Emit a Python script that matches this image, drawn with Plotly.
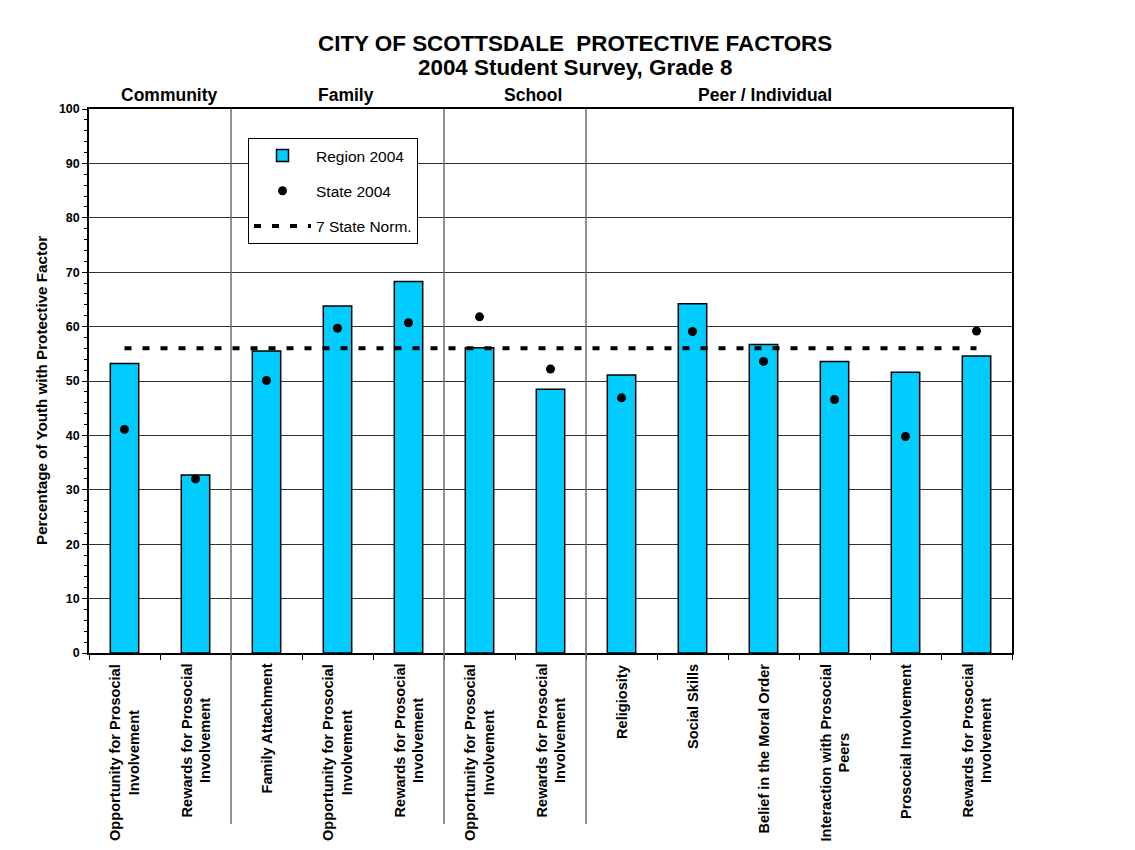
import plotly.graph_objects as go

# ---------------- data ----------------
title_line1 = "CITY OF SCOTTSDALE\u00a0 PROTECTIVE FACTORS"
title_line2 = "2004 Student Survey, Grade 8"
y_title = "Percentage of Youth with Protective Factor"

groups = ["Community", "Family", "School", "Peer / Individual"]
group_sizes = [2, 3, 2, 6]

categories = [
    "Opportunity for Prosocial<br>Involvement",
    "Rewards for Prosocial<br>Involvement",
    "Family Attachment",
    "Opportunity for Prosocial<br>Involvement",
    "Rewards for Prosocial<br>Involvement",
    "Opportunity for Prosocial<br>Involvement",
    "Rewards for Prosocial<br>Involvement",
    "Religiosity",
    "Social Skills",
    "Belief in the Moral Order",
    "Interaction with Prosocial<br>Peers",
    "Prosocial Involvement",
    "Rewards for Prosocial<br>Involvement",
]
region_2004 = [53.2, 32.7, 55.5, 63.8, 68.3, 56.1, 48.5, 51.1, 64.2, 56.7, 53.6, 51.6, 54.6]
state_2004 = [41.1, 32.0, 50.1, 59.7, 60.7, 61.8, 52.2, 46.9, 59.1, 53.6, 46.6, 39.8, 59.2]
state_norm = [56.0, 56.0, 56.0, 56.0, 56.0, 56.0, 56.0, 56.0, 56.0, 56.0, 56.0, 56.0, 56.0]
y_ticks = [0, 10, 20, 30, 40, 50, 60, 70, 80, 90, 100]

# ---------------- layout geometry (page pixel coords) ----------------
PAGE_W, PAGE_H = 1135, 850
OFF = 8                      # default body margin of the html page
FIG_W, FIG_H = PAGE_W - OFF, PAGE_H - OFF
PLOT_L, PLOT_R, PLOT_T, PLOT_B = 89, 1012, 109, 653
PW = PLOT_R - PLOT_L
PH = PLOT_B - PLOT_T
M_L = PLOT_L - OFF
M_T = PLOT_T - OFF
M_R = FIG_W - (PLOT_R - OFF)
M_B = FIG_H - (PLOT_B - OFF)


def px_x(px):
    return (px - PLOT_L) / PW


def px_y(py):
    return (PLOT_B - py) / PH


FONT = "Liberation Sans, Arial, sans-serif"
BAR_COLOR = "#00CCFF"

x_idx = list(range(len(categories)))

fig = go.Figure()

fig.add_trace(go.Bar(
    x=x_idx, y=region_2004, name="Region 2004",
    width=0.4,
    marker=dict(color=BAR_COLOR, line=dict(color="black", width=1.5)),
    legendgroup="a",
))
fig.add_trace(go.Scatter(
    x=x_idx, y=state_2004, name="State 2004", mode="markers",
    marker=dict(color="black", size=9),
    legendgroup="b",
))
fig.add_trace(go.Scatter(
    x=x_idx, y=state_norm, name="7 State Norm.", mode="lines",
    line=dict(color="black", width=4, dash="7px,11px"),
    legendgroup="c",
))

shapes = []
annotations = []

# group separators and group labels
boundaries = []
start = 0
for g, n in zip(groups, group_sizes):
    end = start + n
    boundaries.append((start, end))
    start = end
for (s, e) in boundaries[:-1]:
    shapes.append(dict(type="line", xref="x", yref="paper",
                       x0=e - 0.5, x1=e - 0.5, y0=px_y(824), y1=1,
                       line=dict(color="#6e6e6e", width=1.5), layer="above"))

group_label_x = [0.64, 3.12, 5.75, 9.02]
for g, gx in zip(groups, group_label_x):
    annotations.append(dict(text="<b>%s</b>" % g, x=gx, xref="x",
                            y=px_y(95), yref="paper", showarrow=False,
                            xanchor="center", yanchor="middle",
                            font=dict(family=FONT, size=17.5, color="black")))

# category labels (rotated)
for i, c in enumerate(categories):
    annotations.append(dict(text="<b>%s</b>" % c, x=i, xref="x",
                            y=px_y(662), yref="paper", showarrow=False,
                            textangle=-90, xanchor="center", yanchor="top",
                            align="center",
                            font=dict(family=FONT, size=14.6, color="black")))

# y-axis title
annotations.append(dict(text="<b>%s</b>" % y_title, x=px_x(42), xref="paper",
                        y=px_y(391), yref="paper", showarrow=False, textangle=-90,
                        xanchor="center", yanchor="middle",
                        font=dict(family=FONT, size=15.2, color="black")))

# title lines
annotations.append(dict(text="<b>%s</b>" % title_line1, x=px_x(574.5), xref="paper",
                        y=px_y(43), yref="paper", showarrow=False,
                        xanchor="center", yanchor="middle",
                        font=dict(family=FONT, size=22.4, color="black")))
annotations.append(dict(text="<b>%s</b>" % title_line2, x=px_x(574.5), xref="paper",
                        y=px_y(68), yref="paper", showarrow=False,
                        xanchor="center", yanchor="middle",
                        font=dict(family=FONT, size=22.4, color="black")))

fig.update_layout(
    width=FIG_W, height=FIG_H,
    margin=dict(l=M_L, r=M_R, t=M_T, b=M_B, autoexpand=False),
    paper_bgcolor="white", plot_bgcolor="white",
    font=dict(family=FONT, color="black"),
    showlegend=True,
    legend=dict(x=px_x(248), y=px_y(138), xanchor="left", yanchor="top",
                xref="paper", yref="paper",
                bordercolor="black", borderwidth=1, bgcolor="white",
                font=dict(family=FONT, size=15.5, color="black"),
                traceorder="grouped", tracegroupgap=12, itemwidth=57),
    shapes=shapes,
    annotations=annotations,
    bargap=0.6,
)

fig.update_xaxes(
    range=[-0.5, len(categories) - 0.5],
    tickmode="array",
    tickvals=[i - 0.5 for i in range(len(categories) + 1)],
    showticklabels=False,
    ticks="outside", ticklen=5, tickcolor="black", tickwidth=1,
    showline=True, linecolor="black", linewidth=1.5, mirror=True,
    showgrid=False, zeroline=False,
)
fig.update_yaxes(
    range=[0, 100],
    tickmode="array", tickvals=y_ticks,
    ticks="outside", ticklen=5, tickcolor="black", tickwidth=1,
    tickfont=dict(family=FONT, size=12.5, color="black", weight="bold"),
    showline=True, linecolor="black", linewidth=1.5, mirror=True,
    showgrid=True, gridcolor="#333333", gridwidth=1,
    zeroline=False,
    minor=dict(dtick=2, ticks="outside", ticklen=3, tickcolor="black", showgrid=False),
)

fig.write_html("out.html")
